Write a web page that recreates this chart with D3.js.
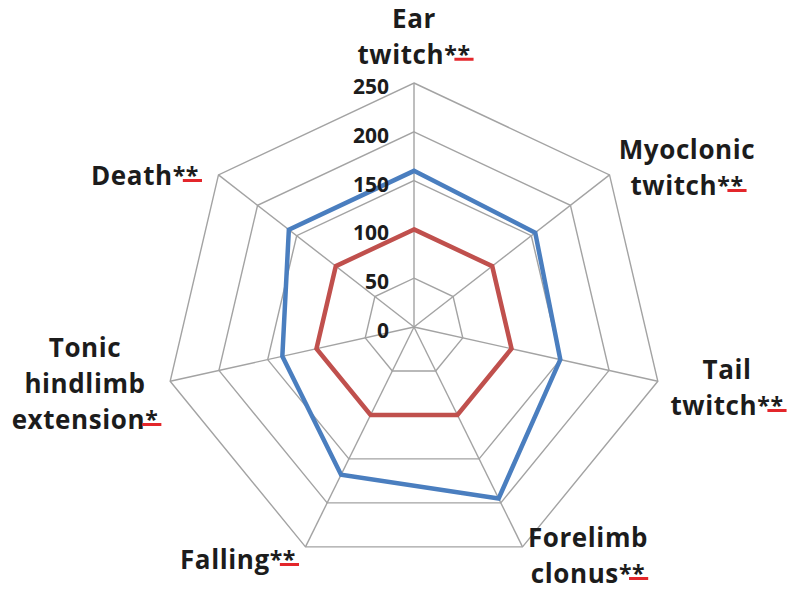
<!DOCTYPE html>
<html lang="en">
<head>
  <meta charset="utf-8">
  <title>Radar chart</title>
  <script src="https://d3js.org/d3.v7.min.js"></script>
  <style>
    body { margin: 0; background: #fff; }
    svg text { font-family: 'Open Sans', sans-serif; font-weight: 700; fill: #1c1c1c; }
  </style>
</head>
<body>
<script>
// data
var axes = ["Ear twitch", "Myoclonic twitch", "Tail twitch", "Forelimb clonus",
            "Falling", "Tonic hindlimb extension", "Death"];
var labelLines = [["Ear", "twitch"], ["Myoclonic", "twitch"], ["Tail", "twitch"],
                  ["Forelimb", "clonus"], ["Falling"], ["Tonic", "hindlimb", "extension"], ["Death"]];
var marks = ["**", "**", "**", "**", "**", "*", "**"];
var control = [100, 100, 100, 100, 100, 100, 100];
var treated = [160, 155, 150, 195, 168, 135, 160];
var ticks = [0, 50, 100, 150, 200, 250];

var w = 790, h = 592;
var cx = 414, cy = 327;
var sx = 1.025; // picture is a bit wider than tall

// label block centres relative to the middle, and line spacing
var labelPos = [[0, -291], [273, -160], [313, 60], [174, 228], [-176, 232], [-329, 56], [-269, -152]];
var lineGap = [35.5, 36, 36, 36, 36, 36, 36];

var svg = d3.select("body").append("svg")
  .attr("width", w)
  .attr("height", h);

var r = d3.scaleLinear().domain([0, 250]).range([0, 244]);
var angle = d3.scaleBand().domain(axes).range([0, 2 * Math.PI]);

function pt(name, v) {
  var a = angle(name);
  return [cx + sx * r(v) * Math.sin(a), cy - r(v) * Math.cos(a)];
}

var line = d3.line().curve(d3.curveLinearClosed);

// grid rings
svg.selectAll(".ring")
  .data(ticks.slice(1))
  .enter().append("path")
  .attr("class", "ring")
  .attr("d", function(t) { return line(axes.map(function(a) { return pt(a, t); })); })
  .attr("fill", "none")
  .attr("stroke", "#a3a3a3")
  .attr("stroke-width", 1.4);

// spokes
svg.selectAll(".spoke")
  .data(axes)
  .enter().append("line")
  .attr("x1", cx).attr("y1", cy)
  .attr("x2", function(a) { return pt(a, 250)[0]; })
  .attr("y2", function(a) { return pt(a, 250)[1]; })
  .attr("stroke", "#a3a3a3")
  .attr("stroke-width", 1.4);

// series
var series = [{vals: control, color: "#c0504d"}, {vals: treated, color: "#4a7ebf"}];
svg.selectAll(".series")
  .data(series)
  .enter().append("path")
  .attr("d", function(s) { return line(axes.map(function(a, i) { return pt(a, s.vals[i]); })); })
  .attr("fill", "none")
  .attr("stroke", function(s) { return s.color; })
  .attr("stroke-width", 4.5)
  .attr("stroke-linejoin", "miter");

// tick labels
svg.selectAll(".tick")
  .data(ticks)
  .enter().append("text")
  .attr("x", cx - 25)
  .attr("y", function(t) { return cy - r(t) + 11; })
  .attr("text-anchor", "end")
  .attr("font-size", 21)
  .text(function(t) { return t; });

// axis labels - one text per axis, lines as tspans
axes.forEach(function(a, i) {
  var lines = labelLines[i];
  var lh = lineGap[i];
  var x0 = cx + labelPos[i][0];
  var y0 = cy + labelPos[i][1] - (lines.length - 1) * lh / 2 + 10;
  var t = svg.append("text")
    .attr("x", x0)
    .attr("y", y0)
    .attr("text-anchor", "middle")
    .attr("font-size", 26)
    .attr("letter-spacing", 0.6);
  var count = 0;
  lines.forEach(function(s, j) {
    var row = t.append("tspan")
      .attr("x", x0)
      .attr("y", y0 + j * lh);
    row.append("tspan").text(s);
    count += s.length;
    if (j === lines.length - 1) {
      row.append("tspan").attr("font-size", 23).attr("dy", -1).text(marks[i]);
      count += marks[i].length;
    }
  });
  // red underline under the last asterisk
  var box = t.node().getExtentOfChar(count - 1);
  svg.append("rect")
    .attr("x", box.x - 3)
    .attr("y", y0 + (lines.length - 1) * lh - 6)
    .attr("width", box.width + 6)
    .attr("height", 3)
    .attr("fill", "#e3262b");
});
</script>
</body>
</html>
